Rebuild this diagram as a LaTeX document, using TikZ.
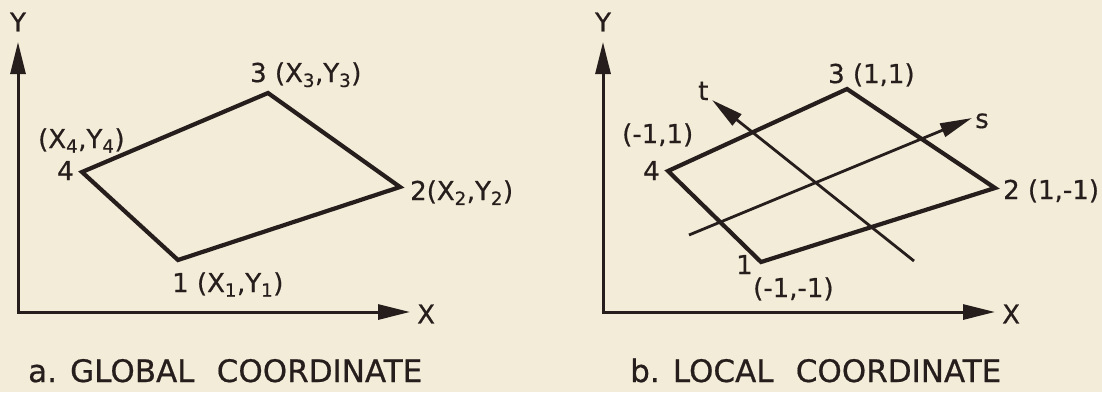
\documentclass[tikz,border=0pt]{standalone}
\usepackage{fontspec}
\setmainfont{DejaVu Sans}[FakeBold=0.6]
\usetikzlibrary{arrows.meta}
\definecolor{paper}{RGB}{243,236,216}
\definecolor{ink}{RGB}{38,30,28}
\begin{document}
\begin{tikzpicture}[x=1pt, y=-1pt,
    headarr/.style={-{Triangle[length=32pt,width=14pt]}},
    axis/.style={ink, line width=3pt, {Triangle[length=32pt,width=15pt]}-{Triangle[length=32pt,width=15pt]}},
    elem/.style={ink, line width=4.2pt, line join=miter},
    locline/.style={ink, line width=2.8pt, headarr},
    lbl/.style={ink, inner sep=0pt, anchor=base west, font=\fontsize{26}{30}\selectfont},
    captxt/.style={ink, inner sep=0pt, anchor=base west, font=\fontsize{31}{36}\selectfont}]
\fill[paper] (0,0) rectangle (1102,392);
\useasboundingbox (0,0) rectangle (1102,392);
% a. global
\coordinate (oa) at (18,312);
\coordinate (ya) at (18,42);
\coordinate (xa) at (410,312);
\draw[axis] (ya) -- (oa) -- (xa);
\node[lbl, anchor=center] (ylaba) at (18,22) {Y};
\node[lbl, anchor=west] (xlaba) at (417,314) {X};
\coordinate (a1) at (178,260);
\coordinate (a2) at (400,187);
\coordinate (a3) at (268,93);
\coordinate (a4) at (82,172);
\draw[elem] (a1) -- (a2) -- (a3) -- (a4) -- cycle;
\node[lbl] (na1) at (172,292) {1 (X\textsubscript{1},Y\textsubscript{1})};
\node[lbl] (na2) at (410,200) {2(X\textsubscript{2},Y\textsubscript{2})};
\node[lbl] (na3) at (250,82) {3 (X\textsubscript{3},Y\textsubscript{3})};
\node[lbl] (na4) at (57,180) {4};
\node[lbl] (ca4) at (38,148) {(X\textsubscript{4},Y\textsubscript{4})};
\node[captxt] (capa) at (28,382) {a. GLOBAL\hspace{0.4em} COORDINATE};
% b. local
\coordinate (ob) at (603,312);
\coordinate (yb) at (603,42);
\coordinate (xb) at (995,312);
\draw[axis] (yb) -- (ob) -- (xb);
\node[lbl, anchor=center] (ylabb) at (603,22) {Y};
\node[lbl, anchor=west] (xlabb) at (1002,314) {X};
\coordinate (b1) at (761,262);
\coordinate (b2) at (995,188);
\coordinate (b3) at (847,89);
\coordinate (b4) at (668,171);
\draw[elem] (b1) -- (b2) -- (b3) -- (b4) -- cycle;
\coordinate (s0) at (689,235);
\coordinate (s1) at (972,118);
\coordinate (t0) at (914,261);
\coordinate (t1) at (712,100);
\draw[locline] (s0) -- (s1);
\draw[locline] (t0) -- (t1);
\node[lbl] (slab) at (975,128) {s};
\node[lbl] (tlab) at (698,100) {t};
\node[lbl] (nb1) at (736,274) {1};
\node[lbl] (cb1) at (753,297) {(-1,-1)};
\node[lbl] (nb2) at (1003,199) {2 (1,-1)};
\node[lbl] (nb3) at (828,83) {3 (1,1)};
\node[lbl] (nb4) at (643,180) {4};
\node[lbl] (cb4) at (622,143) {(-1,1)};
\node[captxt] (capb) at (630,382) {b. LOCAL\hspace{0.4em} COORDINATE};
\end{tikzpicture}
\end{document}
